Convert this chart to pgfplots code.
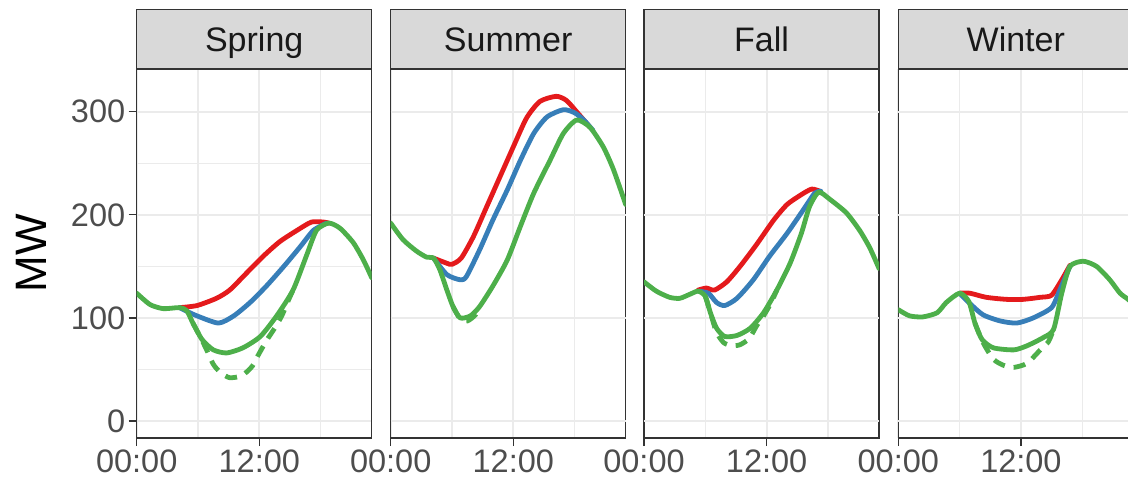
\documentclass[border=0pt]{standalone}
\usepackage{fontspec}
\setmainfont{Liberation Sans}
\usepackage{pgfplots}
\pgfplotsset{compat=1.18}
\definecolor{cred}{HTML}{E41A1C}
\definecolor{cblue}{HTML}{377EB8}
\definecolor{cgreen}{HTML}{4DAF4A}
\definecolor{gridc}{HTML}{EBEBEB}
\definecolor{framec}{HTML}{333333}
\definecolor{ticklab}{HTML}{4D4D4D}
\definecolor{stripfill}{HTML}{D9D9D9}
\pgfplotsset{
 panel/.style={
  scale only axis, width=235pt, height=369pt,
  xmin=0, xmax=23, ymin=-16.5, ymax=341.5,
  xtick={0,12}, xticklabels={00:00,12:00},
  minor xtick={6,18}, minor ytick={50,150,250},
  grid=both,
  major grid style={gridc, line width=1.8pt},
  minor grid style={gridc, line width=1.3pt},
  axis line style={framec, line width=1.3pt},
  tick align=outside, major tick length=8pt, minor tick length=0pt,
  tick style={framec, line width=1.3pt},
  xtick pos=bottom, ytick pos=left,
  ticklabel style={font=\fontsize{32.5}{38}\selectfont, text=ticklab},
 },
 first/.style={ytick={0,100,200,300}, yticklabels={0,100,200,300}},
 other/.style={ytick=\empty, extra y ticks={0,100,200,300}, extra y tick labels={},
   extra y tick style={grid=major, tick style={draw=none}}},
 rl/.style={cred, line width=4.8pt, line join=round, line cap=round, smooth, tension=0.4},
 bl/.style={cblue, line width=4.8pt, line join=round, line cap=round, smooth, tension=0.4},
 gl/.style={cgreen, line width=4.8pt, line join=round, line cap=round, smooth, tension=0.4},
 gd/.style={cgreen, line width=4.8pt, line join=round, dash pattern=on 12pt off 9pt, smooth, tension=0.4},
}
\begin{document}
\begin{tikzpicture}
\path[use as bounding box] (0,0) rectangle (1128pt,483pt);
% Spring
\begin{axis}[panel, first, name=p1, at={(136.7pt,45pt)}, anchor=south west]
\addplot[rl] coordinates {(4.2,110)(5.9,112)(7.8,119)(9.1,127)(10.8,144)(12.4,160)(14,174)(15.7,185)(17.1,193)(18.3,193)(18.8,192)};
\addplot[bl] coordinates {(4.2,110)(5.0,106)(5.9,102)(8,95)(9.5,102)(11.1,115)(12.7,131)(14.4,150)(16,169)(17.3,185)(18.6,192)};
\addplot[gd] coordinates {(5.5,95)(6.2,82)(6.8,70)(7.5,55)(8.2,47)(9.1,42)(10.3,44)(11.3,53)(11.9,64)(12.7,78)(13.5,90)(14.2,102)(14.8,116)(15.3,127)};
\addplot[gl] coordinates {(0,124)(1.3,113)(2.6,109)(4.2,110)(4.9,107)(5.5,95)(6.4,79)(7.5,69)(8.8,66)(10.4,71)(12.1,82)(13.7,102)(15.3,127)(16.6,160)(17.6,185)(18.8,192)(19.9,187)(21.2,173)(22.2,156)(23,139)};
\end{axis}
% Summer
\begin{axis}[panel, other, name=p2, at={(390.7pt,45pt)}, anchor=south west]
\addplot[rl] coordinates {(4.2,158)(5.5,153)(6,152)(6.9,158)(8.1,179)(9.4,208)(10.7,237)(12,266)(13.3,294)(14.6,310)(16.2,315)(17.2,311)(18.2,300)(19.5,285)};
\addplot[bl] coordinates {(4.2,158)(5.5,142)(6.8,137)(7.4,140)(8.7,166)(10,195)(11.4,224)(12.7,253)(14,279)(15.3,295)(16.9,302)(18,299)(18.9,292)(19.8,282)};
\addplot[gd] coordinates {(6.1,111)(6.8,99)(7.5,97)(8.3,103)(8.7,111)};
\addplot[gl] coordinates {(0,192)(1.2,176)(2.5,165)(3.5,159)(4.2,158)(4.8,147)(5.5,127)(6.1,111)(6.8,100)(7.8,102)(8.7,111)(10,131)(11.4,156)(12.7,189)(14,221)(15.6,253)(16.9,279)(18.2,292)(19.5,285)(20.8,266)(21.8,244)(23,210)};
\end{axis}
% Fall
\begin{axis}[panel, other, name=p3, at={(644pt,45pt)}, anchor=south west]
\addplot[rl] coordinates {(5.3,127)(6.1,129)(6.9,127)(8.1,135)(9.4,150)(11,171)(12.7,195)(14,210)(15.3,219)(16.4,225)(17.2,223)};
\addplot[bl] coordinates {(5.3,126)(6.3,124)(7.1,115)(7.9,112)(9.1,119)(10.7,137)(12.3,160)(14,182)(15.6,205)(16.7,221)(17.3,223)};
\addplot[gd] coordinates {(6,121)(6.5,105)(7.1,86)(7.8,76)(8.6,73)(9.4,74)(10.3,80)(11,92)(11.7,102)(12.4,114)(13,127)};
\addplot[gl] coordinates {(0,135)(1.2,126)(2.5,120)(3.5,119)(4.5,123)(5.3,126)(6,121)(6.5,105)(7.1,90)(7.9,82)(9.1,83)(10.4,90)(11.7,105)(13,127)(14.3,153)(15.4,182)(16.2,208)(17.1,222)(18.2,215)(19.8,202)(21.1,185)(22.1,168)(23,148)};
\end{axis}
% Winter
\begin{axis}[panel, other, name=p4, at={(898.3pt,45pt)}, anchor=south west]
\addplot[rl] coordinates {(6,124)(7,124)(8.6,120)(10.6,118)(12.2,118)(13.9,120)(15,122)(16,137)(16.8,151)};
\addplot[bl] coordinates {(6,124)(7,114)(8.3,103)(10,97)(11.6,95)(13.2,100)(15,110)(15.8,127)(16.8,150)};
\addplot[gd] coordinates {(7.5,95)(8.3,76)(9.3,60)(10.3,54)(11.3,52)(12.6,56)(13.9,69)(14.7,77)(15.2,89)};
\addplot[gl] coordinates {(0,108)(1.1,102)(2.4,101)(3.8,105)(4.7,115)(6,124)(6.9,116)(7.5,95)(8.2,79)(9.3,71)(11.3,69)(12.6,73)(14.2,81)(15.2,89)(16,124)(16.8,150)(18.1,155)(19.4,150)(20.7,137)(21.7,124)(22.5,118)(23,113)};
\end{axis}
\foreach \n/\t in {p1/Spring,p2/Summer,p3/Fall,p4/Winter}{
  \draw[framec, fill=stripfill, line width=1.3pt] (\n.north west) rectangle ([yshift=59.5pt]\n.north east);
  \node[anchor=base, inner sep=0pt, text=black!90, font=\fontsize{34}{40}\selectfont] at ([yshift=17pt]\n.north) {\t};
}
\node[rotate=90, font=\fontsize{44}{50}\selectfont] at (31pt,230pt) {MW};
\end{tikzpicture}
\end{document}
